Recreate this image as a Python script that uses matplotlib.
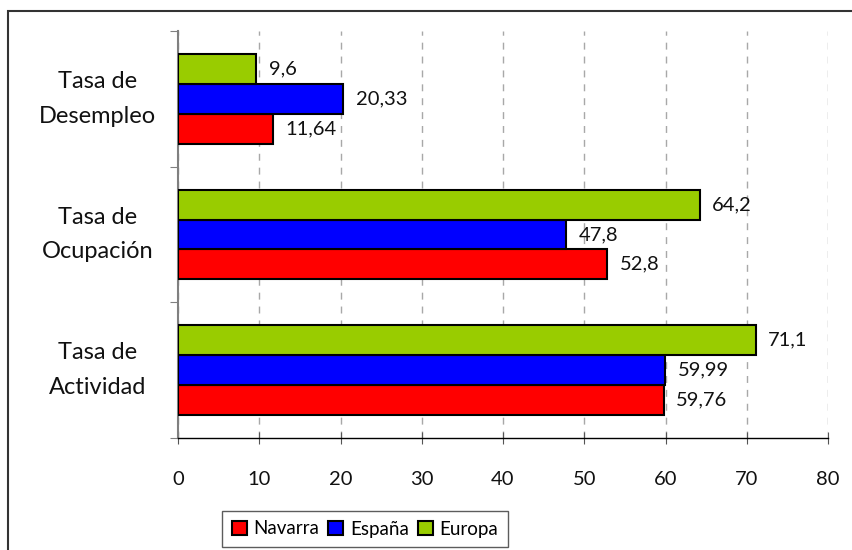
import matplotlib
matplotlib.use("Agg")
import matplotlib.pyplot as plt
import numpy as np
from matplotlib.patches import Rectangle

categories = ["Tasa de\nActividad", "Tasa de\nOcupación", "Tasa de\nDesempleo"]
series_names = ["Navarra", "España", "Europa"]
navarra = [59.76, 52.8, 11.64]
espana = [59.99, 47.8, 20.33]
europa = [71.1, 64.2, 9.6]
labels_navarra = ["59,76", "52,8", "11,64"]
labels_espana = ["59,99", "47,8", "20,33"]
labels_europa = ["71,1", "64,2", "9,6"]
colors = ["#FF0000", "#0000FF", "#99CC00"]
xticks = [0, 10, 20, 30, 40, 50, 60, 70, 80]

plt.rcParams['font.family'] = ['Lato', 'DejaVu Sans']

W, H = 852, 550
fig = plt.figure(figsize=(W / 100, H / 100), dpi=100)
ax = fig.add_axes([178 / W, 1 - 438 / H, (828 - 178) / W, (438 - 31) / H])

y = np.arange(len(categories))
bh = 0.22
data = [navarra, espana, europa]
labs = [labels_navarra, labels_espana, labels_europa]
offsets = [-bh, 0, bh]
for vals, lab, col, off, name in zip(data, labs, colors, offsets, series_names):
    ax.barh(y + off, vals, height=bh, color=col, edgecolor="black",
            linewidth=1.5, label=name, zorder=3)
    for v, yy, t in zip(vals, y + off, lab):
        ax.annotate(t, (v, yy), xytext=(9, 0), textcoords="offset points",
                    va="center", ha="left", fontsize=14.5, color="#111111")

ax.set_xlim(0, 80)
ax.set_ylim(-0.5, 2.5)
ax.set_xticks(xticks)
ax.set_xticklabels([str(t) for t in xticks], fontsize=14.5, color="#111111")
ax.set_yticks([-0.5, 0.5, 1.5, 2.5])
ax.set_yticklabels([])
ax.set_yticks(y, minor=True)
ax.set_yticklabels(categories, minor=True, fontsize=17, ha="center",
                   va="center", linespacing=1.8, color="#111111")
ax.tick_params(axis="y", which="minor", length=0, pad=58)
ax.tick_params(axis="y", which="major", length=6, color="#808080", direction="out")
ax.tick_params(axis="x", length=8, direction="inout", pad=20, color="#555555")

ax.xaxis.grid(True, linestyle=(0, (5, 5)), color="#A8A8A8", linewidth=1, zorder=0)
ax.set_axisbelow(True)
for s in ["top", "right"]:
    ax.spines[s].set_visible(False)
ax.spines["left"].set_color("#808080")
ax.spines["left"].set_linewidth(1.5)
ax.spines["bottom"].set_color("black")
ax.spines["bottom"].set_linewidth(1)

# outer chart frame
fig.patches.append(Rectangle((8 / W, -0.1), 1.2, 1 - 11 / H + 0.1,
                             transform=fig.transFigure, fill=False,
                             edgecolor="#333333", linewidth=1.5))

handles, lbls = ax.get_legend_handles_labels()
leg = fig.legend(handles, lbls, loc="center", ncol=3,
                 bbox_to_anchor=(365 / W, 1 - 529 / H), fontsize=13.5,
                 frameon=True, fancybox=False, edgecolor="#333333",
                 handlelength=0.8, handleheight=0.8, handletextpad=0.35,
                 columnspacing=0.5, borderpad=0.5, borderaxespad=0)
leg.get_frame().set_linewidth(1)

fig.savefig("out.png", dpi=100)
